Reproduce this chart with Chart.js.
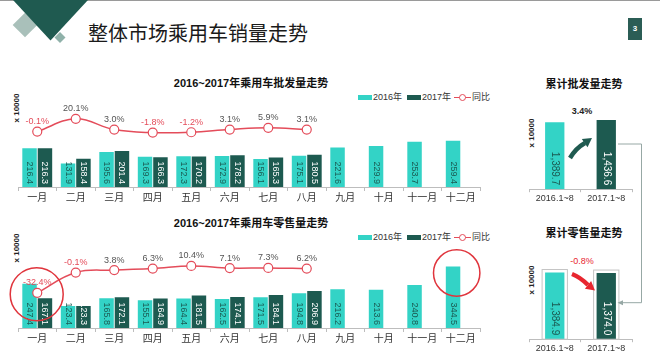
<!DOCTYPE html>
<html>
<head>
<meta charset="utf-8">
<script src="https://cdn.jsdelivr.net/npm/chart.js@4.4.0/dist/chart.umd.min.js"></script>
<style>
  body { margin: 0; width: 660px; height: 354px; position: relative; overflow: hidden; background: #fff;
         font-family: 'Liberation Sans', 'Noto Sans CJK SC', sans-serif; color: #222; }
  .abs { position: absolute; }
  .topline { left: 0; top: 0; width: 660px; height: 1px; background: #9a9a9a; }
  .mainTitle { left: 88px; top: 20px; font-size: 20px; line-height: 26px; font-family: 'Noto Sans CJK SC', sans-serif; color: #1a1a1a; }
  .pageNo { left: 628px; top: 18px; width: 14px; height: 22px; background: #2b5d55; color: #fff; font-size: 8px; font-weight: bold; text-align: center; line-height: 22px; }
  .subTitle { font-size: 11px; font-weight: bold; line-height: 14px; white-space: nowrap; transform: translateX(-50%); color: #111; }
  .yLabel { font-size: 8px; font-weight: bold; white-space: nowrap; transform: translate(-50%, -50%) rotate(-90deg); color: #222; }
  .legend { display: flex; align-items: center; font-size: 9px; line-height: 10px; color: #333; white-space: nowrap; }
  .sw { display: inline-block; width: 14px; height: 5px; margin-right: 1px; }
  .lsym { display: inline-block; position: relative; width: 17px; height: 10px; margin-right: 1px; }
  .lsym::before { content: ''; position: absolute; left: 0; right: 0; top: 4.5px; height: 1.4px; background: #e44c5a; }
  .lsym::after { content: ''; position: absolute; left: 4.5px; top: 1.5px; width: 5px; height: 5px; border: 1.2px solid #e44c5a; border-radius: 50%; background: #fff; }
  canvas { position: absolute; }
</style>
</head>
<body>
<div class="abs topline"></div>
<div class="abs mainTitle">整体市场乘用车销量走势</div>
<div class="abs pageNo">3</div>

<div class="abs subTitle" style="left:251px;top:76px">2016~2017年乘用车批发量走势</div>
<div class="abs subTitle" style="left:251px;top:216px">2016~2017年乘用车零售量走势</div>
<div class="abs subTitle" style="left:584px;top:77px">累计批发量走势</div>
<div class="abs subTitle" style="left:584px;top:226px">累计零售量走势</div>

<div class="abs legend" style="left:358px;top:92px">
  <span class="sw" style="background:#33d3c6"></span><span style="margin-right:5px">2016年</span>
  <span class="sw" style="background:#1d5a50"></span><span style="margin-right:3px">2017年</span>
  <span class="lsym"></span><span>同比</span>
</div>
<div class="abs legend" style="left:358px;top:232px">
  <span class="sw" style="background:#33d3c6"></span><span style="margin-right:5px">2016年</span>
  <span class="sw" style="background:#1d5a50"></span><span style="margin-right:3px">2017年</span>
  <span class="lsym"></span><span>同比</span>
</div>

<div class="abs yLabel" style="left:16px;top:108px">x 10000</div>
<div class="abs yLabel" style="left:16px;top:248px">x 10000</div>
<div class="abs yLabel" style="left:531px;top:133px">x 10000</div>
<div class="abs yLabel" style="left:531px;top:280px">x 10000</div>

<div class="abs" style="left:582px;top:106px;transform:translateX(-50%);font-size:9px;font-weight:bold;color:#222">3.4%</div>
<div class="abs" style="left:582px;top:256px;transform:translateX(-50%);font-size:9px;color:#e8262f">-0.8%</div>

<canvas id="pfChart" width="490" height="105" style="left:0;top:100px"></canvas>
<canvas id="lsChart" width="490" height="105" style="left:0;top:241px"></canvas>
<canvas id="pfCumChart" width="125" height="105" style="left:520px;top:100px"></canvas>
<canvas id="lsCumChart" width="125" height="105" style="left:520px;top:250px"></canvas>

<svg class="abs" width="660" height="354" style="left:0;top:0;pointer-events:none">
  <polygon points="12.7,25 25,12.7 37.3,25 25,37.3" fill="#a9c0ba"/>
  <polygon points="54.5,37.5 60,32 65.5,37.5 60,43" fill="#8fb1a9"/>
  <polygon points="13,0 88,0 50.5,40.5" fill="#1f5a50"/>

  <path d="M570,158 Q576,148 585,143" stroke="#1f5a50" stroke-width="4.5" fill="none"/>
  <polygon points="592,138 581.8,139 587.5,147.2" fill="#1f5a50"/>

  <path d="M572,274 Q580,277 588,285" stroke="#e8262f" stroke-width="4.5" fill="none"/>
  <polygon points="595,290.5 584.9,288.8 591.1,281" fill="#e8262f"/>

  <polyline points="618,144 641.5,144 641.5,302.7 622,302.7" stroke="#97a8a5" stroke-width="1" fill="none"/>
  <polygon points="617.5,302.7 623,300.2 623,305.2" fill="#97a8a5"/>

  <circle cx="36.7" cy="294.3" r="26.5" stroke="#e0353d" stroke-width="1.5" fill="none"/>
  <circle cx="456.7" cy="273" r="23.2" stroke="#e0353d" stroke-width="1.5" fill="none"/>
</svg>

<script>
const meses = ['一月', '二月', '三月', '四月', '五月', '六月', '七月', '八月', '九月', '十月', '十一月', '十二月'];

// 批发量 (x 10000)
const pf2016 = [216.4, 131.9, 195.6, 169.3, 172.3, 172.9, 156.1, 175.1, 221.6, 229.9, 253.7, 259.4];
const pf2017 = [216.3, 158.4, 201.4, 166.3, 170.2, 178.2, 165.3, 180.5, null, null, null, null];
const pfYoy = [-0.1, 20.1, 3.0, -1.8, -1.2, 3.1, 5.9, 3.1, null, null, null, null];

// 零售量 (x 10000)
const ls2016 = [247.4, 123.4, 165.8, 155.1, 164.4, 162.5, 171.5, 194.8, 216.2, 213.6, 240.8, 344.5];
const ls2017 = [167.1, 123.3, 172.1, 164.9, 181.5, 174.1, 184.1, 206.9, null, null, null, null];
const lsYoy = [-32.4, -0.1, 3.8, 6.3, 10.4, 7.1, 7.3, 6.2, null, null, null, null];

// 累计
const periodos = ['2016.1~8', '2017.1~8'];
const pfCum = [1389.7, 1436.6];
const lsCum = [1384.9, 1374.0];

const FONT = "'Liberation Sans', 'Noto Sans CJK SC', sans-serif";
const CYAN = '#33d3c6';
const DARK = '#1d5a50';
const RED = '#e44c5a';

function fmt(v) {
  return v.toLocaleString('en-US', { minimumFractionDigits: 1, maximumFractionDigits: 1 });
}

// rótulos dentro das barras e acima dos pontos
const valueLabels = {
  id: 'valueLabels',
  afterDatasetsDraw(chart, args, opts) {
    const ctx = chart.ctx;
    chart.data.datasets.forEach((ds, i) => {
      const meta = chart.getDatasetMeta(i);
      meta.data.forEach((el, j) => {
        const v = ds.data[j];
        if (v == null) return;
        ctx.save();
        if (ds.type === 'line') {
          ctx.font = `9px ${FONT}`;
          ctx.fillStyle = v < 0 ? RED : '#555';
          ctx.textAlign = 'center';
          ctx.textBaseline = 'middle';
          ctx.fillText(v.toFixed(1) + '%', el.x, el.y - 10);
        } else {
          if (opts.outline) {
            ctx.strokeStyle = '#c4c4c4';
            ctx.lineWidth = 1;
            ctx.strokeRect(el.x - el.width / 2 - 3, el.y - 3, el.width + 6, el.base - el.y + 3);
          }
          const c = Array.isArray(ds.labelColor) ? ds.labelColor[j] : ds.labelColor;
          ctx.translate(el.x, el.base - opts.gap);
          ctx.rotate(Math.PI / 2);
          ctx.font = `${opts.size}px ${FONT}`;
          ctx.fillStyle = c;
          ctx.textAlign = 'right';
          ctx.textBaseline = 'middle';
          ctx.fillText(fmt(v), 0, 0);
        }
        ctx.restore();
      });
    });
  }
};

function eixoX(fontSize, tick) {
  return {
    offset: true,
    grid: { display: true, drawOnChartArea: false, drawTicks: true, tickLength: tick, color: '#bdbdbd', offset: true },
    border: { display: true, color: '#bdbdbd' },
    ticks: { color: '#333', font: { size: fontSize, family: FONT }, padding: 1, maxRotation: 0, autoSkip: false }
  };
}

function graficoMensal(id, d16, d17, yoy) {
  return new Chart(document.getElementById(id), {
    type: 'bar',
    data: {
      labels: meses,
      datasets: [
        { type: 'line', label: '同比', data: yoy, yAxisID: 'y1', order: 0,
          borderColor: RED, borderWidth: 1.5, tension: 0.4,
          pointRadius: 4.5, pointBackgroundColor: '#fff', pointBorderColor: RED, pointBorderWidth: 1.2 },
        { label: '2016年', data: d16, backgroundColor: CYAN, labelColor: '#1b5a52', order: 1,
          barPercentage: 0.94, categoryPercentage: 0.8 },
        { label: '2017年', data: d17, backgroundColor: DARK, labelColor: '#ffffff', order: 1,
          barPercentage: 0.94, categoryPercentage: 0.8 }
      ]
    },
    options: {
      responsive: false,
      animation: false,
      layout: { padding: { left: 18, right: 10, top: 5, bottom: 0 } },
      plugins: { legend: { display: false }, tooltip: { enabled: false }, valueLabels: { gap: 3, size: 9 } },
      scales: {
        x: eixoX(10, 4),
        y: { display: false, min: 0, max: 455 },
        y1: { display: false, min: -88.5, max: 41.1 }
      }
    },
    plugins: [valueLabels]
  });
}

function graficoAcumulado(id, dados, outline) {
  return new Chart(document.getElementById(id), {
    type: 'bar',
    data: {
      labels: periodos,
      datasets: [
        { label: '累计', data: dados, backgroundColor: [CYAN, DARK], labelColor: ['#1b5a52', '#ffffff'],
          barPercentage: 0.375, categoryPercentage: 1 }
      ]
    },
    options: {
      responsive: false,
      animation: false,
      layout: { padding: { left: 9, right: 13, top: 5, bottom: 0 } },
      plugins: { legend: { display: false }, tooltip: { enabled: false }, valueLabels: { gap: 4, size: 10, outline } },
      scales: {
        x: eixoX(9, 3),
        y: { display: false, min: 0, max: 1749 }
      }
    },
    plugins: [valueLabels]
  });
}

graficoMensal('pfChart', pf2016, pf2017, pfYoy);
graficoMensal('lsChart', ls2016, ls2017, lsYoy);
graficoAcumulado('pfCumChart', pfCum, false);
graficoAcumulado('lsCumChart', lsCum, true);
</script>
</body>
</html>
